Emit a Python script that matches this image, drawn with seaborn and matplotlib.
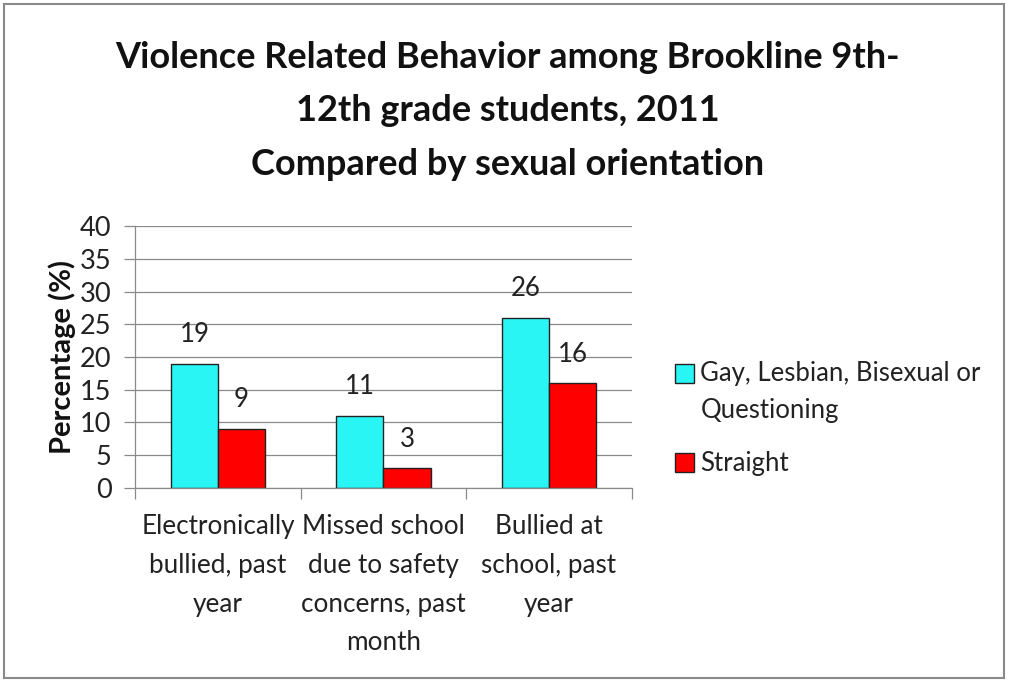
import matplotlib
matplotlib.use("Agg")
import matplotlib.pyplot as plt
import seaborn as sns
import pandas as pd
from matplotlib.patches import Rectangle

categories = ["Electronically\nbullied, past\nyear",
              "Missed school\ndue to safety\nconcerns, past\nmonth",
              "Bullied at\nschool, past\nyear"]
series_names = ["Gay, Lesbian, Bisexual or\nQuestioning", "Straight"]
glbq_values = [19, 11, 26]
straight_values = [9, 3, 16]
y_ticks = [0, 5, 10, 15, 20, 25, 30, 35, 40]
title_text = ("Violence Related Behavior among Brookline 9th-\n"
              "12th grade students, 2011\nCompared by sexual orientation")

sns.set_theme(style="white")
plt.rcParams['font.family'] = ['Lato', 'DejaVu Sans']

df = pd.DataFrame({
    "category": categories * 2,
    "value": glbq_values + straight_values,
    "group": [series_names[0]] * 3 + [series_names[1]] * 3,
})

fig = plt.figure(figsize=(10.09, 6.82), dpi=100)
ax = fig.add_axes([0.134, 0.2845, 0.492, 0.384])

palette = {series_names[0]: "#2AF5F5", series_names[1]: "#FF0000"}
sns.barplot(data=df, x="category", y="value", hue="group", palette=palette,
            width=0.57, edgecolor="#222222", linewidth=1.0, saturation=1,
            ax=ax, legend=True)

for cont in ax.containers:
    ax.bar_label(cont, labels=[f"{v:g}" for v in cont.datavalues],
                 padding=12, fontsize=18.5, color="#222222")

ax.set_ylim(0, 40)
ax.set_xlim(-0.5, 2.5)
ax.set_yticks(y_ticks)
ax.set_yticklabels([str(t) for t in y_ticks], fontsize=19.5, color="#222222")
ax.yaxis.grid(True, color="#8a8a8a", linewidth=0.9)
ax.set_axisbelow(True)
ax.tick_params(axis="y", which="both", left=True, length=8, width=0.9,
               color="#8a8a8a", pad=9)
ax.set_xticks([0, 1, 2])
ax.set_xticklabels(categories, fontsize=18.8, color="#222222",
                   linespacing=1.68, va="top")
ax.set_xticks([-0.5, 0.5, 1.5, 2.5], minor=True)
ax.tick_params(axis="x", which="major", bottom=False, pad=13)
ax.tick_params(axis="x", which="minor", bottom=True, length=8, width=0.9,
               color="#8a8a8a")
ax.set_xlabel("")
ax.set_ylabel("Percentage (%)", fontsize=21, fontweight="bold",
              color="#111111", labelpad=3)
for s in ["top", "right"]:
    ax.spines[s].set_visible(False)
for s in ["left", "bottom"]:
    ax.spines[s].set_color("#8a8a8a")
    ax.spines[s].set_linewidth(0.9)

leg = ax.legend(loc="center left", bbox_to_anchor=(1.04, 0.265), frameon=False,
                fontsize=18.5, handlelength=0.75, handleheight=0.75,
                handletextpad=0.25, labelspacing=1.1)
for t in leg.get_texts():
    t.set_color("#222222")
    t.set_linespacing(1.6)
h0 = leg.legend_handles[0]
h0.set_y(h0.get_y() + 14)

fig.text(0.503, 0.94, title_text, ha="center", va="top", fontsize=26,
         fontweight="bold", color="#111111", linespacing=1.76)

fig.patches.append(Rectangle((0.004, 0.006), 0.991, 0.988,
                             transform=fig.transFigure, fill=False,
                             edgecolor="#8a8a8a", linewidth=1.5))

fig.savefig("out.png", dpi=100)
